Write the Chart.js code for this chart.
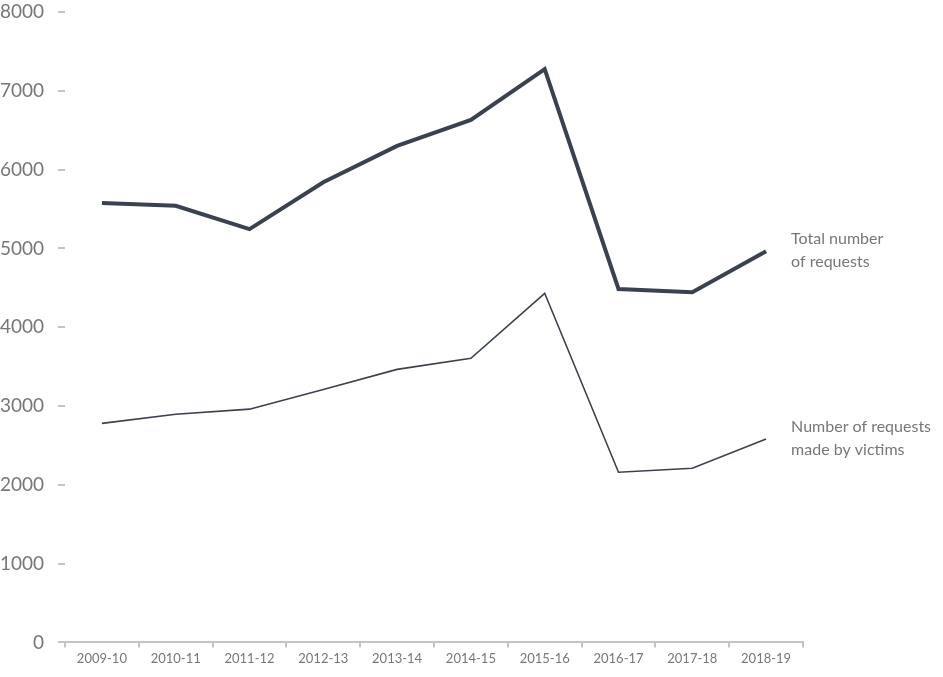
<!DOCTYPE html>
<html>
<head>
<meta charset="utf-8">
<script src="https://cdn.jsdelivr.net/npm/chart.js@4/dist/chart.umd.min.js"></script>
<style>
  html, body { margin: 0; padding: 0; background: #fff; }
  #wrap { width: 943px; height: 677px; }
</style>
</head>
<body>
<div id="wrap"><canvas id="requestsChart" width="943" height="677"></canvas></div>
<script>
const years = ["2009-10", "2010-11", "2011-12", "2012-13", "2013-14", "2014-15", "2015-16", "2016-17", "2017-18", "2018-19"];
const totalRequests = [5575, 5540, 5245, 5840, 6300, 6630, 7275, 4485, 4445, 4965];
const victimRequests = [2780, 2895, 2960, 3210, 3465, 3605, 4430, 2160, 2210, 2580];
const yTicks = [0, 1000, 2000, 3000, 4000, 5000, 6000, 7000, 8000];
const seriesLabels = [["Total number", "of requests"], ["Number of requests", "made by victims"]];

const lineColor = '#3a424f';
const textColor = '#777777';

// writes the series names to the right of each line's last point
const endLabels = {
    id: 'endLabels',
    afterDatasetsDraw(chart) {
        const ctx = chart.ctx;
        ctx.save();
        ctx.font = '16px Lato';
        ctx.fillStyle = textColor;
        ctx.textBaseline = 'middle';
        ctx.textAlign = 'left';
        chart.data.datasets.forEach((ds, i) => {
            const meta = chart.getDatasetMeta(i);
            const last = meta.data[meta.data.length - 1];
            const lines = seriesLabels[i];
            lines.forEach((txt, j) => {
                ctx.fillText(txt, last.x + 25, last.y - 12 + j * 23);
            });
        });
        ctx.restore();
    }
};

const ctx = document.getElementById('requestsChart').getContext('2d');
new Chart(ctx, {
    type: 'line',
    data: {
        labels: years,
        datasets: [{
            label: seriesLabels[0].join(' '),
            data: totalRequests,
            borderColor: lineColor,
            borderWidth: 4,
            pointRadius: 0,
            tension: 0,
            fill: false
        }, {
            label: seriesLabels[1].join(' '),
            data: victimRequests,
            borderColor: lineColor,
            borderWidth: 1.6,
            pointRadius: 0,
            tension: 0,
            fill: false
        }]
    },
    options: {
        responsive: false,
        animation: false,
        layout: { padding: { left: 0, right: 140, top: 0, bottom: 6 } },
        plugins: {
            legend: { display: false },
            tooltip: { enabled: false }
        },
        scales: {
            x: {
                offset: true,
                grid: {
                    offset: true,
                    drawOnChartArea: false,
                    drawTicks: true,
                    tickLength: 5,
                    color: '#c4c4c4',
                    lineWidth: 2
                },
                border: { display: true, color: '#c4c4c4', width: 2 },
                ticks: {
                    color: textColor,
                    font: { family: 'Lato', size: 13 },
                    padding: 4,
                    maxRotation: 0,
                    autoSkip: false
                }
            },
            y: {
                min: 0,
                max: 8000,
                afterBuildTicks(scale) {
                    scale.ticks = yTicks.map(v => ({ value: v }));
                },
                afterFit(scale) {
                    scale.width = 65;
                    scale.paddingTop = 12;
                },
                grid: {
                    drawOnChartArea: false,
                    drawTicks: true,
                    tickLength: 7,
                    color: '#c4c4c4',
                    lineWidth: 2
                },
                border: { display: false },
                ticks: {
                    color: textColor,
                    font: { family: 'Lato', size: 19, lineHeight: 0.6 },
                    padding: 14,
                    callback: v => String(v)
                }
            }
        }
    },
    plugins: [endLabels]
});
</script>
</body>
</html>
